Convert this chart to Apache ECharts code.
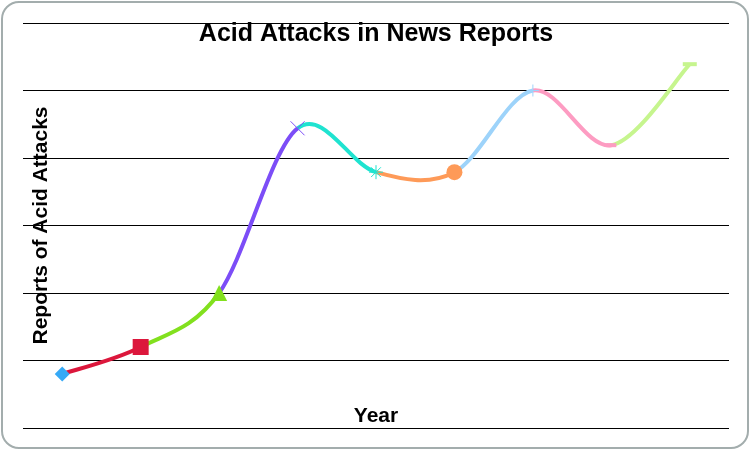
<!DOCTYPE html>
<html>
<head>
<meta charset="utf-8">
<script src="https://cdn.jsdelivr.net/npm/echarts@6/dist/echarts.min.js"></script>
<style>
html,body{margin:0;padding:0;background:#fff;}
#wrap{position:absolute;left:1px;top:1px;width:748px;height:448px;box-sizing:border-box;border:2px solid #a3adad;border-radius:18px;}
#chart{position:absolute;left:0;top:0;width:752px;height:452px;}
</style>
</head>
<body>
<div id="wrap"></div>
<div id="chart"></div>
<script>
var categories = ['1', '2', '3', '4', '5', '6', '7', '8', '9'];
var reports = [0.8, 1.2, 2.0, 4.44, 3.79, 3.79, 5.0, 4.19, 5.39];
var pointColors = ['#36a9f6', '#dc173c', '#82e01e', '#7c4df7', '#1fe3d0', '#fe9a58', '#9dd3fa', '#fd9cc2', '#c6f58e'];
var yTicks = [0, 1, 2, 3, 4, 5, 6];

var symbols = [
  {symbol: 'diamond', size: 15, stroke: false},
  {symbol: 'rect', size: 16, stroke: false},
  {symbol: 'triangle', size: 16, stroke: false},
  {symbol: 'path://M0,0L10,10M0,10L10,0', size: 14, stroke: true},
  {symbol: 'path://M5,0L5,10M1.5,1.5L8.5,8.5M1.5,8.5L8.5,1.5M0,5L10,5', size: 14, stroke: true},
  {symbol: 'circle', size: 16, stroke: false},
  {symbol: 'path://M5,0L5,10M0,5L10,5', size: 12, stroke: true},
  {symbol: 'rect', size: [10, 4], stroke: false},
  {symbol: 'rect', size: [14, 4], stroke: false}
];

var markerData = reports.map(function (v, i) {
  var s = symbols[i];
  return {
    value: v,
    symbol: s.symbol,
    symbolSize: s.size,
    itemStyle: s.stroke
      ? {color: 'rgba(0,0,0,0)', borderColor: pointColors[i], borderWidth: 1, opacity: 1}
      : {color: pointColors[i], borderWidth: 0, opacity: 1}
  };
});

// Segment i joins point i and i+1 (spreadsheet-style cardinal spline)
var segmentData = reports.slice(0, reports.length - 1).map(function (v, i) { return [i, v]; });

function renderSegment(params, api) {
  var i = params.dataIndex;
  var n = reports.length;
  function pt(k) {
    k = Math.max(0, Math.min(n - 1, k));
    return api.coord([k, reports[k]]);
  }
  var p0 = pt(i - 1), p1 = pt(i), p2 = pt(i + 1), p3 = pt(i + 2);
  var t = 1 / 6;
  return {
    type: 'bezierCurve',
    shape: {
      x1: p1[0], y1: p1[1],
      cpx1: p1[0] + (p2[0] - p0[0]) * t, cpy1: p1[1] + (p2[1] - p0[1]) * t,
      cpx2: p2[0] - (p3[0] - p1[0]) * t, cpy2: p2[1] - (p3[1] - p1[1]) * t,
      x2: p2[0], y2: p2[1]
    },
    style: {stroke: pointColors[i + 1], lineWidth: 4, fill: null, lineCap: 'butt'}
  };
}

var fontFam = 'Liberation Sans, Arial, sans-serif';
var chart = echarts.init(document.getElementById('chart'));
chart.setOption({
  animation: false,
  title: {
    text: 'Acid Attacks in News Reports',
    left: 'center',
    top: 17,
    textStyle: {fontFamily: fontFam, fontWeight: 'bold', fontSize: 25, color: '#000'}
  },
  grid: {left: 23, right: 23, top: 23, bottom: 24, containLabel: false},
  xAxis: {
    type: 'category',
    data: categories,
    boundaryGap: true,
    name: 'Year',
    nameLocation: 'middle',
    nameGap: -22,
    nameTextStyle: {fontFamily: fontFam, fontWeight: 'bold', fontSize: 21, color: '#000'},
    axisLine: {show: false},
    axisTick: {show: false},
    axisLabel: {show: false}
  },
  yAxis: {
    type: 'value',
    min: yTicks[0],
    max: yTicks[yTicks.length - 1],
    interval: 1,
    name: 'Reports of Acid Attacks',
    nameLocation: 'middle',
    nameRotate: 90,
    nameGap: -29,
    nameTextStyle: {fontFamily: fontFam, fontWeight: 'bold', fontSize: 21, color: '#000'},
    axisLine: {show: false},
    axisTick: {show: false},
    axisLabel: {show: false},
    splitLine: {show: true, lineStyle: {color: '#000', width: 1}}
  },
  series: [
    {
      type: 'custom',
      data: segmentData,
      renderItem: renderSegment,
      z: 2
    },
    {
      type: 'scatter',
      data: markerData,
      z: 3
    }
  ]
});
</script>
</body>
</html>
